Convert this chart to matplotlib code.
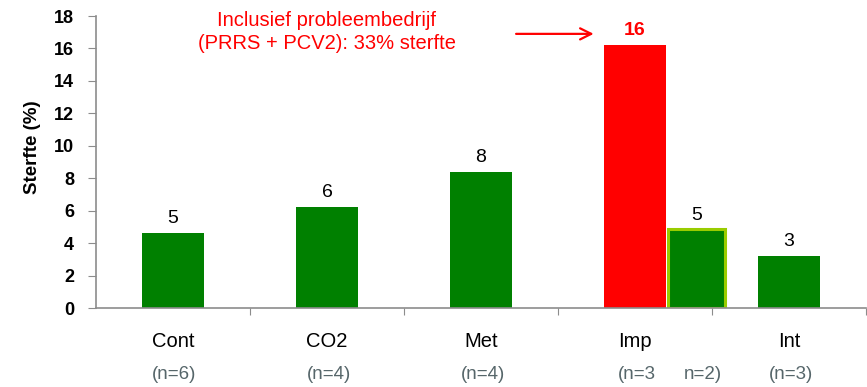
import matplotlib.pyplot as plt

plt.rcParams['font.family'] = ['Liberation Sans', 'DejaVu Sans']

categories = ['Cont', 'CO2', 'Met', 'Imp', 'Int']
n_labels = ['(n=6)', '(n=4)', '(n=4)', '(n=3', '(n=3)']
sterfte = [4.6, 6.2, 8.4, 16.2, 3.2]
# Imp zonder probleembedrijf
imp_zonder = 4.9
imp_zonder_n = 'n=2)'

green = '#008000'
red = '#ff0000'
axis_grey = '#8c8c8c'
n_grey = '#56666a'

fig = plt.figure(figsize=(8.67, 3.87), dpi=100)
ax = fig.add_axes([0.1107, 0.204, 0.8881, 0.7546])

x = list(range(len(categories)))
colors = [red if c == 'Imp' else green for c in categories]
ax.bar(x, sterfte, width=0.40, color=colors)
ax.bar(3.4, imp_zonder, width=0.375, color=green, edgecolor='#99cc00', linewidth=2.2)

# waardelabels boven de staven
for xi, v in zip(x, sterfte):
    is_imp = categories[xi] == 'Imp'
    ax.annotate(f'{v:.0f}', (xi, v), xytext=(0, 10), textcoords='offset pixels',
                ha='center', va='baseline', fontsize=14,
                color=red if is_imp else 'black',
                fontweight='bold' if is_imp else 'normal')
ax.annotate(f'{imp_zonder:.0f}', (3.4, imp_zonder), xytext=(0, 9),
            textcoords='offset pixels', ha='center', va='baseline', fontsize=14)

ax.set_xlim(-0.5, 4.5)
ax.set_ylim(0, 18)
ax.set_yticks(range(0, 19, 2))
ax.set_yticklabels([str(t) for t in range(0, 19, 2)], fontsize=13, fontweight='bold')
ax.set_ylabel('Sterfte (%)', fontsize=13.5, fontweight='bold')
ax.yaxis.set_label_coords(-0.072, 0.55)

ax.set_xticks([i + 0.5 for i in x])
ax.set_xticklabels([])
ax.tick_params(axis='x', length=5, color=axis_grey, direction='out')
ax.tick_params(axis='y', length=5.8, color=axis_grey, direction='out', pad=10)
for s in ['top', 'right']:
    ax.spines[s].set_visible(False)
for s in ['left', 'bottom']:
    ax.spines[s].set_color(axis_grey)
    ax.spines[s].set_linewidth(1.2)

# categorie- en n-labels onder de as
for xi, c, n in zip(x, categories, n_labels):
    ax.text(xi, -2.05, c, ha='center', va='center', fontsize=14.5)
    ax.text(xi + 0.01, -4.1, n, ha='center', va='center', fontsize=13.5, color=n_grey)
ax.text(3.44, -4.1, imp_zonder_n, ha='center', va='center', fontsize=13.5, color=n_grey)

# toelichting bij het probleembedrijf
ax.text(1.0, 17.0, 'Inclusief probleembedrijf\n(PRRS + PCV2): 33% sterfte',
        ha='center', va='center', fontsize=14.5, color=red, linespacing=1.25)
ax.annotate('', xy=(2.75, 16.9), xytext=(2.21, 16.9),
            arrowprops=dict(arrowstyle='->', color=red, lw=1.6, mutation_scale=20))

fig.savefig('out.png', dpi=100)
